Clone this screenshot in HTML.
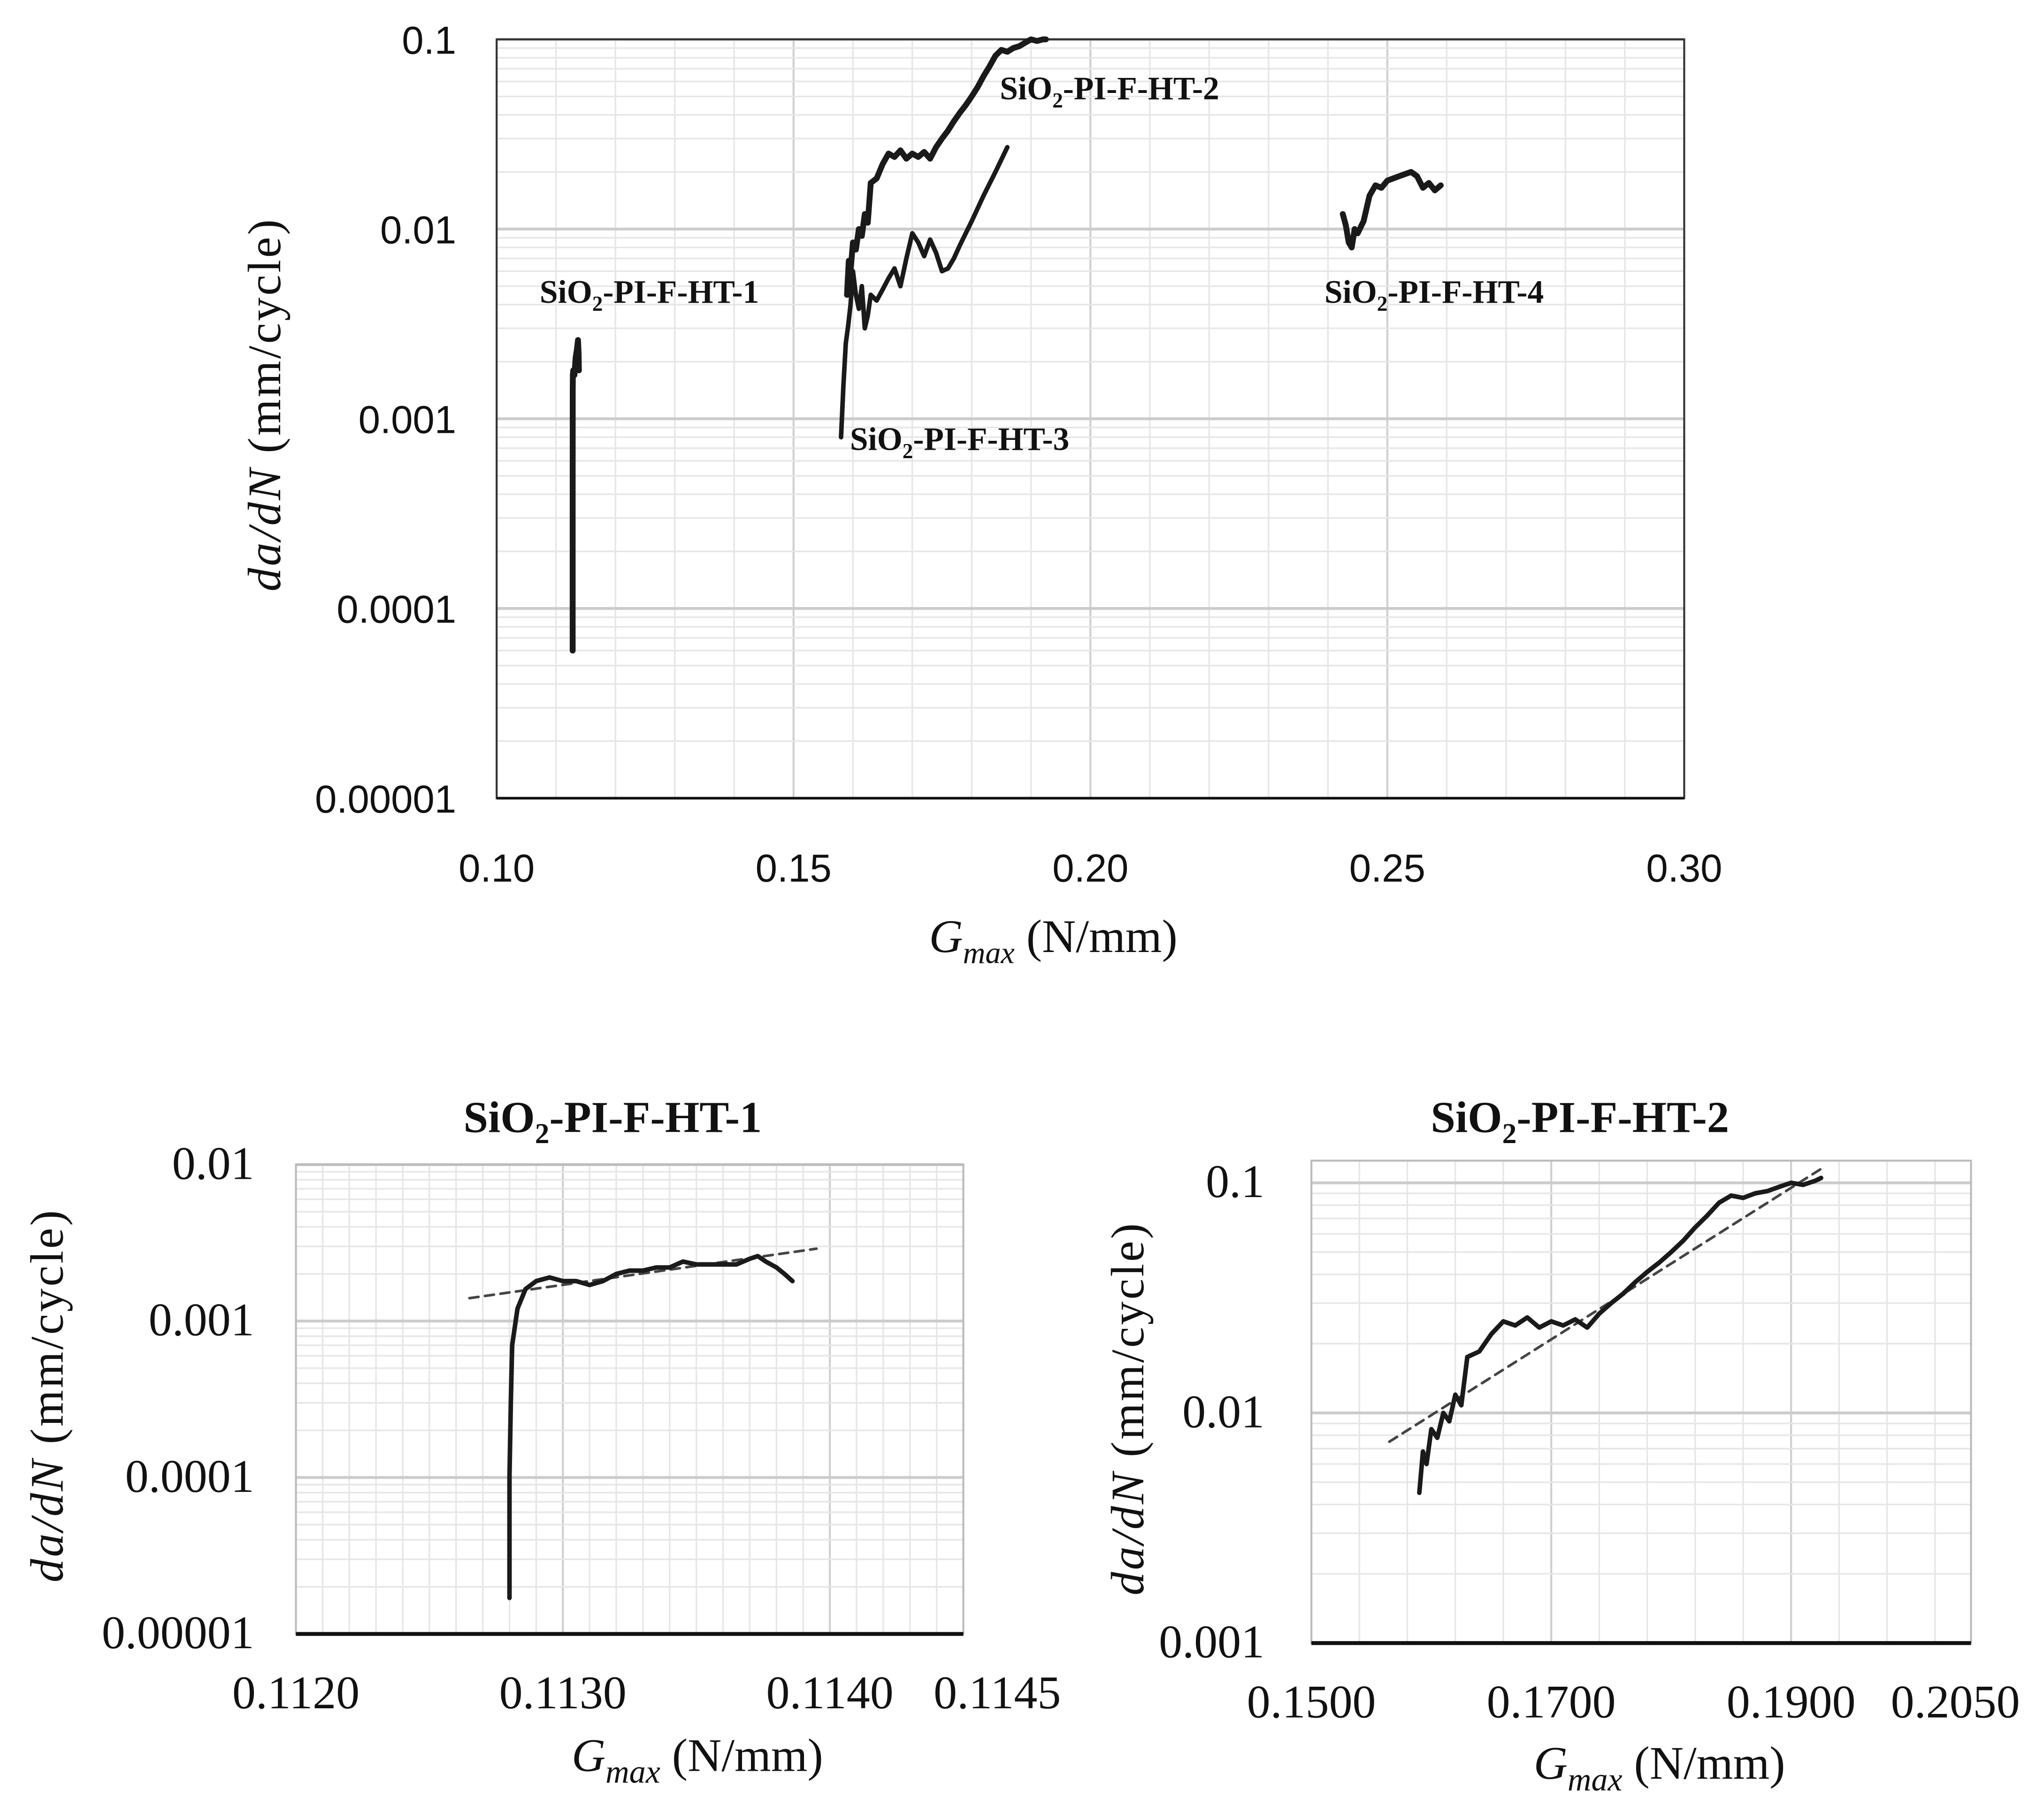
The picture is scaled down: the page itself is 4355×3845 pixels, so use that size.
<!DOCTYPE html>
<html><head><meta charset="utf-8"><style>
html,body{margin:0;padding:0;background:#fff}
svg{display:block}
.tk{font-family:"Liberation Sans Narrow","Liberation Sans",sans-serif;font-size:30px;fill:#111}
.st{font-family:"Liberation Serif",serif;font-size:36px;fill:#111}
.lb{font-family:"Liberation Serif",serif;font-weight:bold;font-size:25px;fill:#111}
.ttl{font-family:"Liberation Serif",serif;font-weight:bold;font-size:34px;fill:#111}
</style></head><body>
<svg id="fig" width="4355" height="3845" viewBox="0 0 1568 1384" xmlns="http://www.w3.org/2000/svg">
<g id="main"></g>
<g id="in1"></g>
<g id="in2"></g>
</svg>
<script>
// ---- main chart data ----
const mainXTicks = [0.10, 0.15, 0.20, 0.25, 0.30];
const mainXTickLabels = ["0.10","0.15","0.20","0.25","0.30"];
const mainYTicks = [0.1, 0.01, 0.001, 0.0001, 0.00001];
const mainYTickLabels = ["0.1","0.01","0.001","0.0001","0.00001"];
const ht1X = [0.1128,0.1128,0.11281,0.11283,0.1129,0.1131,0.1133,0.1135,0.1137,0.1138,0.11385];
const ht1Y = [0.00006,0.0003,0.0014,0.0017,0.0018,0.0017,0.0021,0.0023,0.0026,0.0022,0.0018];
const ht2X = [0.1590,0.1593,0.1596,0.1600,0.1605,0.1610,0.1615,0.1620,0.1625,0.1630,0.1640,0.1650,0.1660,0.1670,0.1680,0.1690,0.1700,0.1710,0.1720,0.1730,0.1740,0.1750,0.1760,0.1770,0.1780,0.1790,0.1800,0.1810,0.1820,0.1830,0.1840,0.1850,0.1860,0.1870,0.1880,0.1890,0.1900,0.1910,0.1920,0.1925];
const ht2Y = [0.0045,0.0068,0.0060,0.0085,0.0078,0.0100,0.0092,0.0120,0.0108,0.0175,0.0185,0.0220,0.0250,0.0240,0.0260,0.0235,0.0250,0.0240,0.0255,0.0235,0.0270,0.0300,0.0330,0.0370,0.0410,0.0450,0.0500,0.0560,0.0640,0.0720,0.0820,0.0880,0.0860,0.0900,0.0920,0.0960,0.1000,0.0980,0.1020,0.1050];
const ht3X = [0.1580,0.1584,0.1588,0.1592,0.1596,0.1600,0.1605,0.1610,0.1615,0.1620,0.1625,0.1630,0.1640,0.1650,0.1660,0.1670,0.1680,0.1690,0.1700,0.1710,0.1720,0.1730,0.1740,0.1750,0.1760,0.1770,0.1780,0.1800,0.1820,0.1840,0.1860];
const ht3Y = [0.0008,0.0015,0.0025,0.0031,0.0040,0.0060,0.0045,0.0038,0.0050,0.0030,0.0035,0.0045,0.0042,0.0048,0.0055,0.0062,0.0050,0.0070,0.0095,0.0085,0.0072,0.0088,0.0075,0.0060,0.0062,0.0070,0.0082,0.0110,0.0150,0.0200,0.0270];
const ht4X = [0.2425,0.2430,0.2435,0.2440,0.2445,0.2450,0.2460,0.2470,0.2480,0.2490,0.2500,0.2510,0.2520,0.2530,0.2540,0.2550,0.2560,0.2570,0.2580,0.2590];
const ht4Y = [0.0120,0.0105,0.0085,0.0080,0.0100,0.0095,0.0110,0.0150,0.0170,0.0165,0.0180,0.0185,0.0190,0.0195,0.0200,0.0190,0.0165,0.0175,0.0160,0.0170];
// ---- inset 1 data ----
const in1XTicks = [0.1120,0.1130,0.1140,0.1145];
const in1XTickLabels = ["0.1120","0.1130","0.1140","0.1145"];
const in1YTicks = [0.01,0.001,0.0001,0.00001];
const in1YTickLabels = ["0.01","0.001","0.0001","0.00001"];
const in1X = [0.11280,0.11280,0.112805,0.11281,0.11283,0.11286,0.11290,0.11295,0.11300,0.11305,0.11310,0.11315,0.11320,0.11325,0.11330,0.11335,0.11340,0.11345,0.11350,0.11355,0.11360,0.11365,0.11370,0.11373,0.11376,0.11380,0.11383,0.11386];
const in1Y = [0.000017,0.0001,0.0003,0.0007,0.0012,0.0016,0.0018,0.0019,0.0018,0.0018,0.0017,0.0018,0.0020,0.0021,0.0021,0.0022,0.0022,0.0024,0.0023,0.0023,0.0023,0.0023,0.0025,0.0026,0.0024,0.0022,0.0020,0.0018];
const in1TrendX = [0.11265,0.11395];
const in1TrendY = [0.0014,0.0029];
// ---- inset 2 data ----
const in2XTicks = [0.1500,0.1700,0.1900,0.2050];
const in2XTickLabels = ["0.1500","0.1700","0.1900","0.2050"];
const in2YTicks = [0.1,0.01,0.001];
const in2YTickLabels = ["0.1","0.01","0.001"];
const in2TrendX = [0.1565,0.1925];
const in2TrendY = [0.0075,0.115];

const NS="http://www.w3.org/2000/svg";
function mk(parent,tag,attrs,txt){const e=document.createElementNS(NS,tag);for(const k in attrs)e.setAttribute(k,attrs[k]);if(txt!==undefined)e.textContent=txt;parent.appendChild(e);return e;}
function sio2(parent,x,y,cls,suffix,anchor,fs){
  const t=mk(parent,'text',{x:x,y:y,class:cls,'text-anchor':anchor||'start'});
  
  
  const a=document.createElementNS(NS,'tspan');a.textContent='SiO';t.appendChild(a);
  const b=document.createElementNS(NS,'tspan');b.setAttribute('dy',fs*0.25);b.setAttribute('font-size',fs*0.65);b.textContent='2';t.appendChild(b);
  const c=document.createElementNS(NS,'tspan');c.setAttribute('dy',-fs*0.25);c.textContent='-PI-F-HT-'+suffix;t.appendChild(c);
  return t;
}
function chart(g,o){
  const sx=v=>o.x0+(v-o.xmin)/(o.xmax-o.xmin)*(o.x1-o.x0);
  const sy=v=>o.yb-(Math.log10(v)-Math.log10(o.ymin))/(Math.log10(o.ymax)-Math.log10(o.ymin))*(o.yb-o.yt);
  const grid=mk(g,'g',{});
  
  
  for(let v=o.xmin+o.xminor;v<o.xmax-1e-9;v+=o.xminor){
    mk(grid,'line',{x1:sx(v),x2:sx(v),y1:o.yt,y2:o.yb,stroke:'#e6e6e6','stroke-width':1.2});
  }
  for(const v of o.xmajor){mk(grid,'line',{x1:sx(v),x2:sx(v),y1:o.yt,y2:o.yb,stroke:'#cfcfcf','stroke-width':1.5});}
  for(let e=Math.round(Math.log10(o.ymin));e<Math.round(Math.log10(o.ymax));e++){
    for(let m=2;m<=9;m++){const v=m*Math.pow(10,e);if(v>o.ymax)break;mk(grid,'line',{x1:o.x0,x2:o.x1,y1:sy(v),y2:sy(v),stroke:'#e6e6e6','stroke-width':1.2});}
    mk(grid,'line',{x1:o.x0,x2:o.x1,y1:sy(Math.pow(10,e+1)),y2:sy(Math.pow(10,e+1)),stroke:'#cccccc','stroke-width':2.2});
  }
  const fr=mk(g,'rect',{x:o.x0,y:o.yt,width:o.x1-o.x0,height:o.yb-o.yt,fill:'none',stroke:o.frame,'stroke-width':1.5});
  
  
  const ax=mk(g,'line',{x1:o.x0,x2:o.x1,y1:o.yb,y2:o.yb,stroke:'#111','stroke-width':o.axw});
  
  
  o.xt.forEach((v,i)=>{const t=mk(g,'text',{x:sx(v)+(o.xoff?o.xoff[i]:0),y:o.xly,class:o.tcls,'text-anchor':'middle'},o.xl[i]);
    
    });
  o.yt2.forEach((v,i)=>{const t=mk(g,'text',{x:o.ylx,y:sy(v)+11,class:o.tcls,'text-anchor':'end'},o.yl[i]);
    
    });
  return {sx,sy};
}
function path(g,s,X,Y,w,name,dash,clipYmax){
  let d='';X.forEach((x,i)=>{let y=Y[i];if(clipYmax&&y>clipYmax)y=clipYmax;d+=(i?'L':'M')+s.sx(x).toFixed(2)+' '+s.sy(y).toFixed(2);});
  const p=mk(g,'path',{d:d,fill:'none',stroke:dash?'#444':'#1a1a1a','stroke-width':w,'stroke-linejoin':'round','stroke-linecap':'round'});
  if(dash)p.setAttribute('stroke-dasharray',dash);
  
  
}
function titles(g,xx,xy,yx,yy,fs){
  const xt=mk(g,'text',{x:xx,y:xy,class:'st','text-anchor':'middle','font-size':fs});
  
  
  const a=document.createElementNS(NS,'tspan');a.setAttribute('font-style','italic');a.textContent='G';xt.appendChild(a);
  const b=document.createElementNS(NS,'tspan');b.setAttribute('font-style','italic');b.setAttribute('font-size',fs*0.7);b.setAttribute('dy',fs*0.25);b.textContent='max';xt.appendChild(b);
  const c=document.createElementNS(NS,'tspan');c.setAttribute('dy',-fs*0.25);c.textContent=' (N/mm)';xt.appendChild(c);
  const yt=mk(g,'text',{x:0,y:0,class:'st','text-anchor':'middle','font-size':fs,'letter-spacing':1.5,transform:`translate(${yx},${yy}) rotate(-90)`});
  
  
  const d=document.createElementNS(NS,'tspan');d.setAttribute('font-style','italic');d.textContent='da/dN';yt.appendChild(d);
  const e=document.createElementNS(NS,'tspan');e.textContent=' (mm/cycle)';yt.appendChild(e);
}
// main
const gm=document.getElementById('main');
const sm=chart(gm,{x0:381,x1:1292,yt:30,yb:612,xmin:0.10,xmax:0.30,ymin:1e-5,ymax:0.1,xminor:0.01,xmajor:[0.15,0.20,0.25],
  frame:'#333',axw:2,xt:mainXTicks,xl:mainXTickLabels,xly:676,yt2:mainYTicks,yl:mainYTickLabels,ylx:350,tcls:'tk'});
path(gm,sm,ht1X,ht1Y,4.5,'series-ht1');
path(gm,sm,ht2X,ht2Y,4.5,'series-ht2',null,0.1);
path(gm,sm,ht3X,ht3Y,3.5,'series-ht3');
path(gm,sm,ht4X,ht4Y,4.5,'series-ht4');
sio2(gm,414,232,'lb','1','start',25);
sio2(gm,767,76,'lb','2','start',25);
sio2(gm,652,345,'lb','3','start',25);
sio2(gm,1016,232,'lb','4','start',25);
titles(gm,808,730,215,310,34);
// inset 1
const g1=document.getElementById('in1');
const s1=chart(g1,{x0:227,x1:739,yt:893,yb:1253,xmin:0.1120,xmax:0.1145,ymin:1e-5,ymax:0.01,xminor:0.0001,xmajor:[0.1130,0.1140],
  frame:'#bbb',axw:3,xt:in1XTicks,xl:in1XTickLabels,xoff:[0,0,0,26],xly:1310,yt2:in1YTicks,yl:in1YTickLabels,ylx:195,tcls:'st'});
path(g1,s1,in1TrendX,in1TrendY,2,'trendline-ht1','7 5');
path(g1,s1,in1X,in1Y,3.5,'series-ht1-detail');
sio2(g1,470,868,'ttl','1','middle',34);
titles(g1,535,1358,48,1070,36);
// inset 2
const g2=document.getElementById('in2');
const s2=chart(g2,{x0:1006,x1:1512,yt:890,yb:1260,xmin:0.150,xmax:0.205,ymin:0.001,ymax:Math.pow(10,-1+17/176.5),xminor:0.004,xmajor:[0.170,0.190],
  frame:'#bbb',axw:3,xt:in2XTicks,xl:in2XTickLabels,xoff:[0,0,0,-12],xly:1317,yt2:in2YTicks,yl:in2YTickLabels,ylx:970,tcls:'st'});
path(g2,s2,in2TrendX,in2TrendY,2,'trendline-ht2','7 5');
path(g2,s2,ht2X,ht2Y,3.5,'series-ht2-detail');
sio2(g2,1212,868,'ttl','2','middle',34);
titles(g2,1273,1364,877,1080,36);
</script>
</body></html>
